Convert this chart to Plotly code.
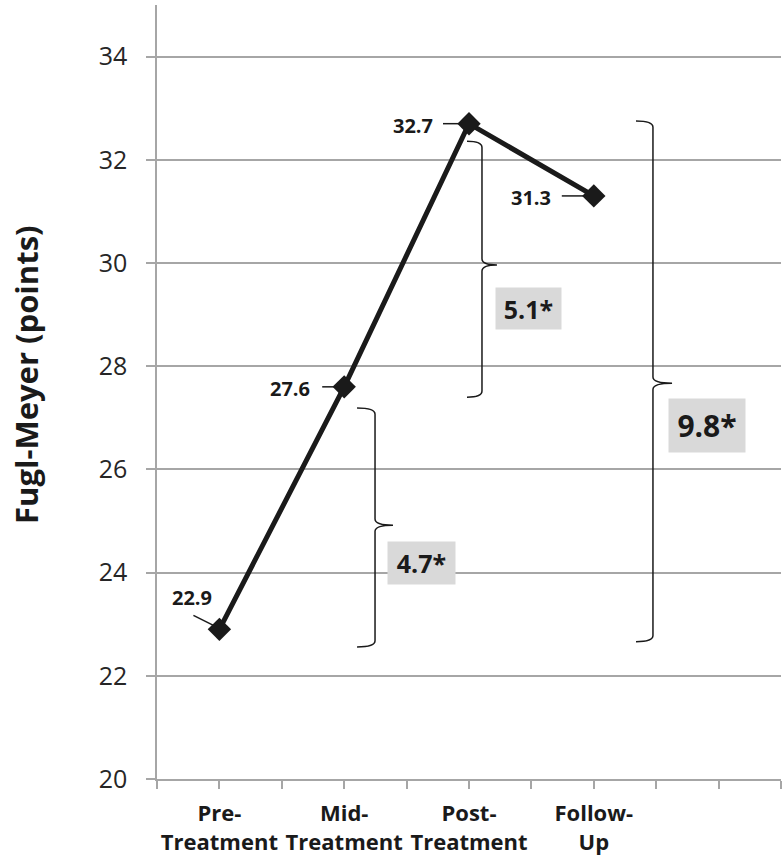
import plotly.graph_objects as go

# ---------------- data ----------------
categories = ["Pre-<br>Treatment", "Mid-<br>Treatment", "Post-<br>Treatment", "Follow-<br>Up"]
fugl_meyer = [22.9, 27.6, 32.7, 31.3]
value_labels = ["22.9", "27.6", "32.7", "31.3"]
diff_labels = ["4.7*", "5.1*", "9.8*"]
y_ticks = [20, 22, 24, 26, 28, 30, 32, 34]
y_title = "Fugl-Meyer (points)"

# ---------------- style ----------------
FONT = "Open Sans"
GRID = "#a6a6a6"
INK = "#1a1a1a"
n_slots = 5  # category slots on the axis (last one empty)

xs = list(range(len(categories)))

fig = go.Figure()
fig.add_trace(go.Scatter(
    x=xs, y=fugl_meyer, mode="lines+markers",
    line=dict(color=INK, width=5),
    marker=dict(symbol="diamond", size=18, color=INK),
    hoverinfo="skip", showlegend=False,
))

# value labels + leader lines (pixel offsets relative to the points)
label_offsets = [(-27, 32), (-54, -2), (-56, -2), (-63, -2)]
leader_offsets = [((-26, 14), (-6, 4)), ((-22, 0), (-6, 0)), ((-26, 0), (-6, 0)), ((-32, 0), (-4, 0))]
for i, (x, y) in enumerate(zip(xs, fugl_meyer)):
    dx, dy = label_offsets[i]
    fig.add_annotation(x=x, y=y, text=f"<b>{value_labels[i]}</b>", showarrow=False,
                       xshift=dx, yshift=dy, font=dict(family=FONT, size=20, color=INK))
    (a0, b0), (a1, b1) = leader_offsets[i]
    fig.add_shape(type="line", xref="x", yref="y", xsizemode="pixel", ysizemode="pixel",
                  xanchor=x, yanchor=y, x0=a0, x1=a1, y0=b0, y1=b1,
                  line=dict(color=INK, width=1.5))

# braces: (hook x, vertical x, tip x, top y, cusp y, bottom y) in data units
braces = [
    (1.103, 1.247, 1.391, 27.19, 24.92, 22.56),
    (1.984, 2.104, 2.224, 32.36, 29.96, 27.40),
    (3.338, 3.474, 3.627, 32.75, 27.67, 22.66),
]
for (xl, xv, xt, yt, ym, yb) in braces:
    ry = 0.12
    path = (f"M {xl},{yt} Q {xv},{yt} {xv},{yt-ry} "
            f"L {xv},{ym+ry} Q {xv},{ym} {xt},{ym} "
            f"Q {xv},{ym} {xv},{ym-ry} "
            f"L {xv},{yb+ry} Q {xv},{yb} {xl},{yb}")
    fig.add_shape(type="path", path=path, xref="x", yref="y",
                  line=dict(color=INK, width=1.5))

# difference boxes
diff_pos = [(1.619, 24.19), (2.477, 29.12), (3.907, 26.85)]
diff_box = [(65, 40, 25), (63, 39, 25), (74, 51, 30)]
for lab, (x, y), (w, h, fs) in zip(diff_labels, diff_pos, diff_box):
    fig.add_annotation(x=x, y=y, text=f"<b>{lab}</b>", showarrow=False,
                       width=w, height=h, bgcolor="#d9d9d9",
                       font=dict(family=FONT, size=fs, color=INK))

# y-axis title
fig.add_annotation(xref="paper", yref="paper", x=-0.21, y=0.522,
                   xanchor="center", yanchor="middle",
                   text=f"<b>{y_title}</b>", textangle=-90, showarrow=False,
                   font=dict(family=FONT, size=31, color=INK))

# x ticks at category centres and boundaries
tickvals = [i * 0.5 - 0.5 for i in range(2 * n_slots + 1)]
ticktext = []
for v in tickvals:
    if float(v).is_integer() and 0 <= int(v) < len(categories):
        ticktext.append(f"<b>{categories[int(v)].replace('<br>', '</b><br><b>')}</b>")
    else:
        ticktext.append("")

fig.update_xaxes(range=[-0.5, n_slots - 0.5], tickvals=tickvals, ticktext=ticktext,
                 showgrid=False, zeroline=False, showline=True, linecolor=GRID, linewidth=1.5,
                 ticks="outside", ticklen=8, tickcolor=GRID, tickwidth=1.5,
                 tickfont=dict(family=FONT, size=22, color=INK), ticklabelstandoff=6)
fig.update_yaxes(range=[20, 35], tickvals=y_ticks, showgrid=True, gridcolor=GRID, gridwidth=1.5,
                 zeroline=False, showline=True, linecolor=GRID, linewidth=1.5,
                 ticks="outside", ticklen=9, tickcolor=GRID, tickwidth=1.5,
                 tickfont=dict(family=FONT, size=25, color="#262626"), ticklabelstandoff=14)

fig.update_layout(width=783, height=863, margin=dict(l=157, r=2, t=5, b=84, autoexpand=False),
                  plot_bgcolor="white", paper_bgcolor="white", showlegend=False)

fig.write_html("out.html", config={"displayModeBar": False},
               post_script="document.body.style.margin='0';")
